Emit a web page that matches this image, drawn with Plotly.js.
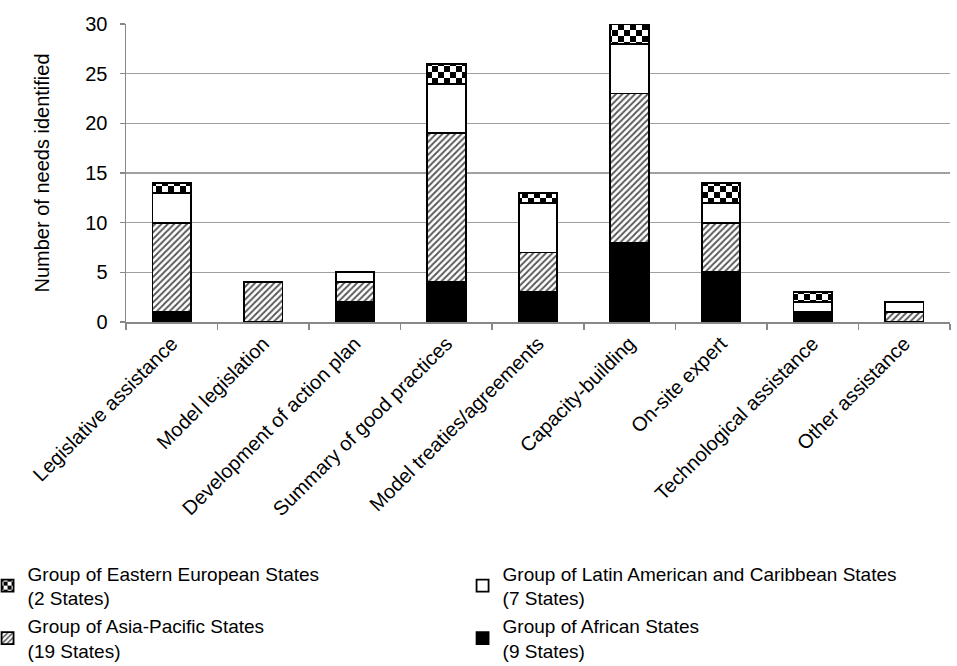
<!DOCTYPE html>
<html>
<head>
<meta charset="utf-8">
<script src="https://cdn.plot.ly/plotly-3.0.1.min.js"></script>
<style>body{margin:0;padding:0;background:#fff;}#chart{width:957px;height:666px;}</style>
</head>
<body>
<div id="chart"></div>
<script>
const categories = ["Legislative assistance","Model legislation","Development of action plan","Summary of good practices","Model treaties/agreements","Capacity-building","On-site expert","Technological assistance","Other assistance"];
const african = [1,0,2,4,3,8,5,1,0];
const asiaPacific = [9,4,2,15,4,15,5,0,1];
const latinAmerican = [3,0,1,5,5,5,2,1,1];
const easternEuropean = [1,0,0,2,1,2,2,1,0];
const seriesNames = ["Group of African States<br>(9 States)","Group of Asia-Pacific States<br>(19 States)","Group of Latin American and Caribbean States<br>(7 States)","Group of Eastern European States<br>(2 States)"];
const yTicks = [0,5,10,15,20,25,30];

const line = {color:"#000", width:1.8};
const traces = [
  {type:"bar", x:categories, y:african, name:seriesNames[0], marker:{color:"#000", line:line}},
  {type:"bar", x:categories, y:asiaPacific, name:seriesNames[1], marker:{color:"#fff", line:line, pattern:{shape:"/", fgcolor:"#555", bgcolor:"#fff", size:4.5, solidity:0.4}}},
  {type:"bar", x:categories, y:latinAmerican, name:seriesNames[2], marker:{color:"#fff", line:line}},
  {type:"bar", x:categories, y:easternEuropean, name:seriesNames[3], marker:{color:"#fff", line:line, pattern:{shape:".", fgcolor:"#000", bgcolor:"#fff", size:12, solidity:0.5}}}
];
const layout = {
  width:957, height:666,
  margin:{l:126, r:7, t:24, b:344, autoexpand:false},
  barmode:"stack", bargap:0.58,
  paper_bgcolor:"#fff", plot_bgcolor:"#fff",
  font:{family:"Liberation Sans, Arial, sans-serif", size:19, color:"#000"},
  xaxis:{type:"category", automargin:false, tickangle:-45, ticks:"outside", tickson:"boundaries", ticklen:6, tickcolor:"#888", tickwidth:1.5, showline:true, linecolor:"#888", linewidth:2, showgrid:false, tickfont:{size:20}},
  yaxis:{automargin:false, range:[0,30], tickvals:yTicks, ticks:"outside", ticklen:5, tickcolor:"#888", tickwidth:1.5, ticklabelstandoff:8, showline:true, linecolor:"#888", linewidth:1.5, showgrid:true, gridcolor:"#a0a0a0", gridwidth:1.5, zeroline:false, tickfont:{size:20}, title:{text:"Number of needs identified", font:{size:20}, standoff:30}},
  showlegend:true,
  legend:{orientation:"h", traceorder:"reversed", x:-0.168, xanchor:"left", y:-0.78, yanchor:"top", entrywidth:430, entrywidthmode:"pixels", font:{size:19}, itemwidth:30, tracegroupgap:0, borderwidth:0, bgcolor:"rgba(0,0,0,0)"}
};
Plotly.newPlot("chart", traces, layout, {displayModeBar:false, staticPlot:true}).then(function(){
  const NS = "http://www.w3.org/2000/svg";
  document.querySelectorAll("pattern").forEach(function(p){
    if (p.querySelector("circle")) {
      const s = parseFloat(p.getAttribute("width")) || 12;
      while (p.firstChild) p.removeChild(p.firstChild);
      const bg = document.createElementNS(NS, "rect");
      bg.setAttribute("x",0); bg.setAttribute("y",0); bg.setAttribute("width",s); bg.setAttribute("height",s); bg.setAttribute("fill","#fff");
      p.appendChild(bg);
      [[0,0],[s/2,s/2]].forEach(function(c){
        const r = document.createElementNS(NS, "rect");
        r.setAttribute("x",c[0]); r.setAttribute("y",c[1]); r.setAttribute("width",s/2); r.setAttribute("height",s/2); r.setAttribute("fill","#000");
        p.appendChild(r);
      });
    }
  });
});
</script>
</body>
</html>
